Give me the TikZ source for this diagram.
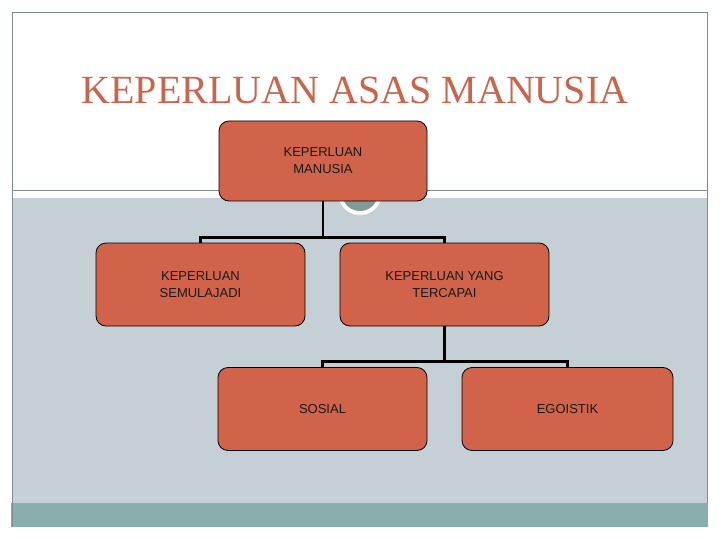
\documentclass[tikz,border=0pt]{standalone}
\usepackage{fontspec}
\setmainfont{Liberation Serif}
\setsansfont{Liberation Sans}
\usepackage{xcolor}
\usepackage{tikz}
\usetikzlibrary{arrows.meta,positioning}
\definecolor{bata}{HTML}{D1634A}
\definecolor{tajuk}{HTML}{C8654C}
\definecolor{latar}{HTML}{C5D0D6}
\definecolor{jalur}{HTML}{8AADAD}
\definecolor{bingkai}{HTML}{7F8C8D}
\definecolor{bulat}{HTML}{7E9A99}

\begin{document}
\begin{tikzpicture}[x=1pt,y=-1pt,
  kotak/.style={draw=black,line width=0.8pt,fill=bata,rounded corners=10pt,
    minimum width=209pt,minimum height=83pt,align=center,
    font=\sffamily\fontsize{13}{17}\selectfont,text=black!90},
  sambung/.style={line width=2.4pt,black}]
\useasboundingbox (0,0) rectangle (720,540);
\fill[white] (0,0) rectangle (720,540);
% latar slaid
\fill[latar] (12,198) rectangle (707,503);
\fill[jalur] (11,503) rectangle (708,527);
\draw[bingkai,line width=0.8pt] (12,527) -- (12,12) -- (707,12) -- (707,503);
\draw[bingkai,line width=0.8pt] (12,190) -- (707,190);
\fill[white] (360,193) circle (22);
\fill[bulat] (360,193) circle (18);
% tajuk
\node[font=\fontsize{40}{48}\selectfont,text=tajuk,anchor=base] (tajuk) at (355,104) {KEPERLUAN ASAS MANUSIA};
% kotak
\node[kotak,minimum width=208pt,minimum height=80pt] (manusia) at (323,161) {KEPERLUAN\\MANUSIA};
\node[kotak] (semula) at (200.5,284.5) {KEPERLUAN\\SEMULAJADI};
\node[kotak] (tercapai) at (444.5,284.5) {KEPERLUAN YANG\\TERCAPAI};
\node[kotak] (sosial) at (322.5,409) {SOSIAL};
\node[kotak,minimum width=211pt] (egoistik) at (567.5,409) {EGOISTIK};
% garis
\draw[sambung] (manusia.south) -- ++(0,36) coordinate (j1);
\draw[sambung] (semula.north) |- (j1) -| (tercapai.north);
\draw[sambung] (tercapai.south) -- ++(0,35) coordinate (j2);
\draw[sambung] (sosial.north) |- (j2) -| (egoistik.north);
\end{tikzpicture}
\end{document}
